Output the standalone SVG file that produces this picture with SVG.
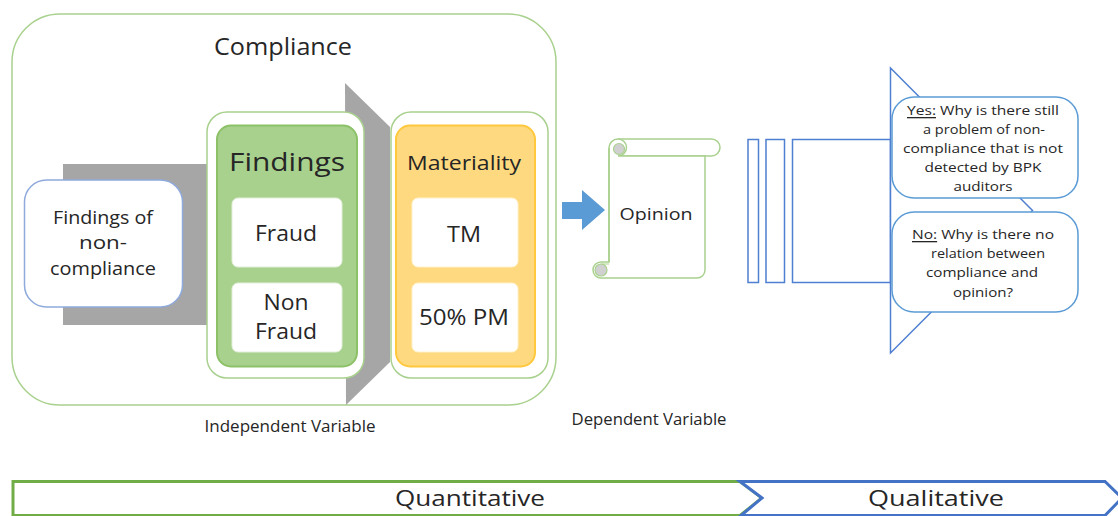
<svg xmlns="http://www.w3.org/2000/svg" width="1118" height="516" viewBox="0 0 1118 516">
  <style>
    text { font-family: "Open Sans", Lato, "Liberation Sans", sans-serif; fill: #262626; text-anchor: middle; dominant-baseline: central; }
    .frame { fill: #ffffff; stroke: #a9d18e; stroke-width: 1.5; }
    .whitebox { fill: #ffffff; stroke: #e2efd9; stroke-width: 1; }
    .gray { fill: #a6a6a6; }
    .blueline { fill: #ffffff; stroke: #4f7fd0; stroke-width: 1.5; }
    .callout { fill: #ffffff; stroke: #5b9bd5; stroke-width: 1.5; }
    .small { font-size: 13px; }
    .label { font-size: 16.5px; }
  </style>

  <!-- Compliance container -->
  <g id="compliance">
    <rect class="frame" x="12" y="14" width="544" height="391" rx="48"/>
    <text x="283" y="46" style="font-size:23px" textLength="138" lengthAdjust="spacingAndGlyphs">Compliance</text>
  </g>

  <!-- Grey flow shapes behind the boxes -->
  <g id="flow-shapes">
    <rect class="gray" x="63" y="164" width="150" height="161"/>
    <polygon class="gray" points="345,83 390,127 390,362 346,405"/>
  </g>

  <g id="findings-non-compliance">
    <rect x="24.5" y="180" width="158" height="127" rx="22" fill="#ffffff" stroke="#8faadc" stroke-width="1.5"/>
    <text x="103" y="217" style="font-size:18px" textLength="100" lengthAdjust="spacingAndGlyphs">Findings of</text>
    <text x="103" y="242" style="font-size:18px" textLength="48" lengthAdjust="spacingAndGlyphs">non-</text>
    <text x="103" y="268" style="font-size:18px" textLength="106" lengthAdjust="spacingAndGlyphs">compliance</text>
  </g>

  <g id="findings">
    <rect class="frame" x="207" y="112" width="157" height="266" rx="20"/>
    <rect x="217" y="125.5" width="140" height="241" rx="14" fill="#a9d18e" stroke="#8cc168" stroke-width="2"/>
    <text x="287" y="161" style="font-size:26px" textLength="116" lengthAdjust="spacingAndGlyphs">Findings</text>
  </g>
  <g id="fraud">
    <rect class="whitebox" x="232" y="198" width="110" height="69" rx="6"/>
    <text x="286" y="233" style="font-size:21px" textLength="62" lengthAdjust="spacingAndGlyphs">Fraud</text>
  </g>
  <g id="non-fraud">
    <rect class="whitebox" x="232" y="283" width="110" height="69" rx="6"/>
    <text x="286" y="302" style="font-size:21px" textLength="45" lengthAdjust="spacingAndGlyphs">Non</text>
    <text x="286" y="331" style="font-size:21px" textLength="62" lengthAdjust="spacingAndGlyphs">Fraud</text>
  </g>

  <g id="materiality">
    <rect class="frame" x="391" y="112" width="157" height="266" rx="20"/>
    <rect x="396" y="125.5" width="139" height="241" rx="14" fill="#ffd97f" stroke="#ffc83d" stroke-width="2"/>
    <text x="464" y="162" style="font-size:20px" textLength="114" lengthAdjust="spacingAndGlyphs">Materiality</text>
  </g>
  <g id="tm">
    <rect class="whitebox" x="412" y="198" width="106" height="69" rx="6" style="stroke:#fff2cc"/>
    <text x="464" y="233" style="font-size:22px" textLength="34" lengthAdjust="spacingAndGlyphs">TM</text>
  </g>
  <g id="pm">
    <rect class="whitebox" x="412" y="283" width="106" height="69" rx="6" style="stroke:#fff2cc"/>
    <text x="464" y="317" style="font-size:21px" textLength="90" lengthAdjust="spacingAndGlyphs">50% PM</text>
  </g>

  <g id="opinion">
    <!-- top roll -->
    <path d="M 618 139 H 711.5 A 8.5 8.5 0 0 1 711.5 156 H 618" fill="#ffffff" stroke="#a9d18e" stroke-width="1.5"/>
    <!-- sheet -->
    <path d="M 609 148 A 9 9 0 0 1 618 139 A 8.5 8.5 0 0 1 618 156 H 705 V 270 A 8 8 0 0 1 697 278 H 601 A 8 8 0 0 1 601 262 H 609 Z" fill="#ffffff" stroke="#a9d18e" stroke-width="1.5"/>
    <line x1="609" y1="148" x2="609" y2="262" stroke="#a9d18e" stroke-width="1.5"/>
    <circle cx="619" cy="149" r="5.5" fill="#d0d0d0" stroke="#a9d18e" stroke-width="1.2"/>
    <circle cx="601" cy="270" r="6" fill="#d0d0d0" stroke="#a9d18e" stroke-width="1.2"/>
    <line x1="601" y1="264" x2="609" y2="264" stroke="#a9d18e" stroke-width="1"/>
    <text x="656" y="213" style="font-size:17px" textLength="73" lengthAdjust="spacingAndGlyphs">Opinion</text>
  </g>

  <g id="speaker">
    <rect class="blueline" x="748" y="139.5" width="10.5" height="143"/>
    <rect class="blueline" x="766" y="139.5" width="18.5" height="143"/>
    <rect class="blueline" x="792.5" y="139.5" width="98" height="143"/>
    <polygon class="blueline" points="890.5,68 1032.5,210.5 890.5,353"/>
  </g>

  <g id="answer-yes">
    <rect class="callout" x="892" y="97" width="186" height="101" rx="22"/>
    <text class="small" x="983" y="110" textLength="152" lengthAdjust="spacingAndGlyphs"><tspan text-decoration="underline">Yes:</tspan> Why is there still</text>
    <text class="small" x="984" y="129" textLength="122" lengthAdjust="spacingAndGlyphs">a problem of non-</text>
    <text class="small" x="983" y="148" textLength="160" lengthAdjust="spacingAndGlyphs">compliance that is not</text>
    <text class="small" x="983" y="167" textLength="117" lengthAdjust="spacingAndGlyphs">detected by BPK</text>
    <text class="small" x="983" y="186" textLength="59" lengthAdjust="spacingAndGlyphs">auditors</text>
  </g>

  <g id="answer-no">
    <rect class="callout" x="892" y="212" width="186" height="100" rx="22"/>
    <text class="small" x="983" y="234" textLength="142" lengthAdjust="spacingAndGlyphs"><tspan text-decoration="underline">No:</tspan> Why is there no</text>
    <text class="small" x="988" y="253" textLength="114" lengthAdjust="spacingAndGlyphs">relation between</text>
    <text class="small" x="982" y="272" textLength="112" lengthAdjust="spacingAndGlyphs">compliance and</text>
    <text class="small" x="983" y="292" textLength="60" lengthAdjust="spacingAndGlyphs">opinion?</text>
  </g>

  <g id="connectors">
    <polygon points="562,202 582,202 582,190 605,210 582,230 582,219 562,219" fill="#5b9bd5"/>
  </g>

  <g id="variable-labels">
    <text class="label" x="290" y="425" textLength="171" lengthAdjust="spacingAndGlyphs">Independent Variable</text>
    <text class="label" x="649" y="418" textLength="155" lengthAdjust="spacingAndGlyphs">Dependent Variable</text>
  </g>

  <g id="quantitative">
    <polygon points="13,481.5 740,481.5 762,498 740,515.5 13,515.5" fill="#ffffff" stroke="#70ad47" stroke-width="3"/>
    <text x="470" y="497" style="font-size:22px" textLength="150" lengthAdjust="spacingAndGlyphs">Quantitative</text>
  </g>
  <g id="qualitative">
    <polygon points="740,481.5 1105,481.5 1122,498 1105,515.5 741,515.5 762,498" fill="#ffffff" stroke="#4472c4" stroke-width="3"/>
    <text x="936" y="497" style="font-size:22px" textLength="136" lengthAdjust="spacingAndGlyphs">Qualitative</text>
  </g>
</svg>
